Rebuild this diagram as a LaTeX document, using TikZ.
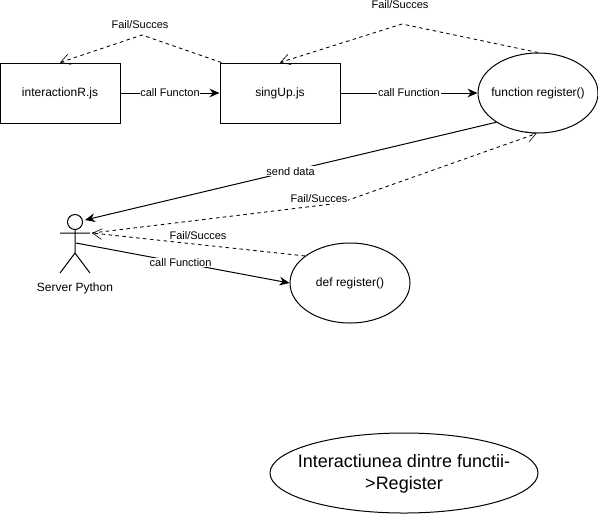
\documentclass[tikz,border=0pt]{standalone}
\usepackage{fontspec}
\setmainfont{Liberation Sans}
\usetikzlibrary{arrows.meta,shapes.geometric}
\tikzset{
  x=0.75pt,y=-0.75pt,
  every node/.style={font=\fontsize{9}{11}\selectfont},
  boxn/.style={draw,line width=0.75pt,minimum width=90pt,minimum height=45pt,inner sep=0pt},
  elln/.style={draw,ellipse,line width=0.75pt,minimum width=90pt,minimum height=60pt,inner sep=0pt},
  callarrow/.style={draw,line width=0.75pt,-{Stealth[length=7.5pt,width=6.5pt]}},
  backarrow/.style={draw,line width=0.65pt,dash pattern=on 2.6pt off 2.6pt,-{Straight Barb[length=7pt,width=8pt,line width=0.45pt]}},
  edgelabel/.style={fill=white,inner sep=0.6pt,font=\fontsize{8.25}{10}\selectfont},
  limb/.style={draw,line width=0.75pt}
}
\begin{document}
\begin{tikzpicture}
\useasboundingbox (0,0) rectangle (598,515);
\node[boxn] (inter) at (60,93) {interactionR.js};
\node[boxn] (sing) at (280,93) {singUp.js};
\node[elln,label=center:{function register()}] (freg) at (538,93) {};
\node[elln,label=center:{def register()}] (dreg) at (350,283) {};
\node[draw,circle,line width=0.75pt,minimum size=11.25pt,inner sep=0pt] (head) at (75,222) {};
\coordinate (hip) at (75,253);
\coordinate (armL) at (60,233);
\coordinate (armR) at (90,233);
\coordinate (legL) at (60,273);
\coordinate (legR) at (90,273);
\coordinate (actorIn) at (85,220);
\coordinate (actorBack) at (92,233);
\coordinate (actorOut) at (76,243);
\coordinate (apexA) at (142,35);
\coordinate (apexB) at (402,24);
\coordinate (bendC) at (340,203);
\path[limb] (head.south) -- (hip) (armL) -- (armR) (hip) -- (legL) (hip) -- (legR);
\node (actorname) at (75,288) {Server Python};
\node[draw,ellipse,line width=0.75pt,minimum width=201pt,minimum height=60pt,inner sep=0pt] (title) at (404,473) {};
\node[font=\fontsize{13.5}{16.5}\selectfont,align=center] (titletext) at (404,474) {Interactiunea dintre functii-\\>Register};
\path[callarrow] (inter.east) -- node[edgelabel] {call Functon} (sing.west);
\path[callarrow] (sing.east) -- node[edgelabel,pos=0.5] {call Function} (freg.west);
\path[callarrow] (freg.-145) -- node[edgelabel,pos=0.5] {send data} (actorIn);
\path[callarrow] (actorOut) -- node[edgelabel,pos=0.49] {call Function} (dreg.west);
\path[backarrow] (sing.north west) ++(2,0) coordinate (sA) (sA) -- (apexA) -- (inter.north);
\path[backarrow] (freg.north) -- (apexB) -- (sing.north);
\path[backarrow] (actorBack) -- (bendC) -- (freg.-92);
\path[backarrow] (dreg.149) -- (actorBack);
\node[edgelabel,fill=none] (l1) at (140,25) {Fail/Succes};
\node[edgelabel,fill=none] (l2) at (400,5) {Fail/Succes};
\node[edgelabel] (l3) at (319,199) {Fail/Succes};
\node[edgelabel] (l4) at (198,236) {Fail/Succes};
\end{tikzpicture}
\end{document}
